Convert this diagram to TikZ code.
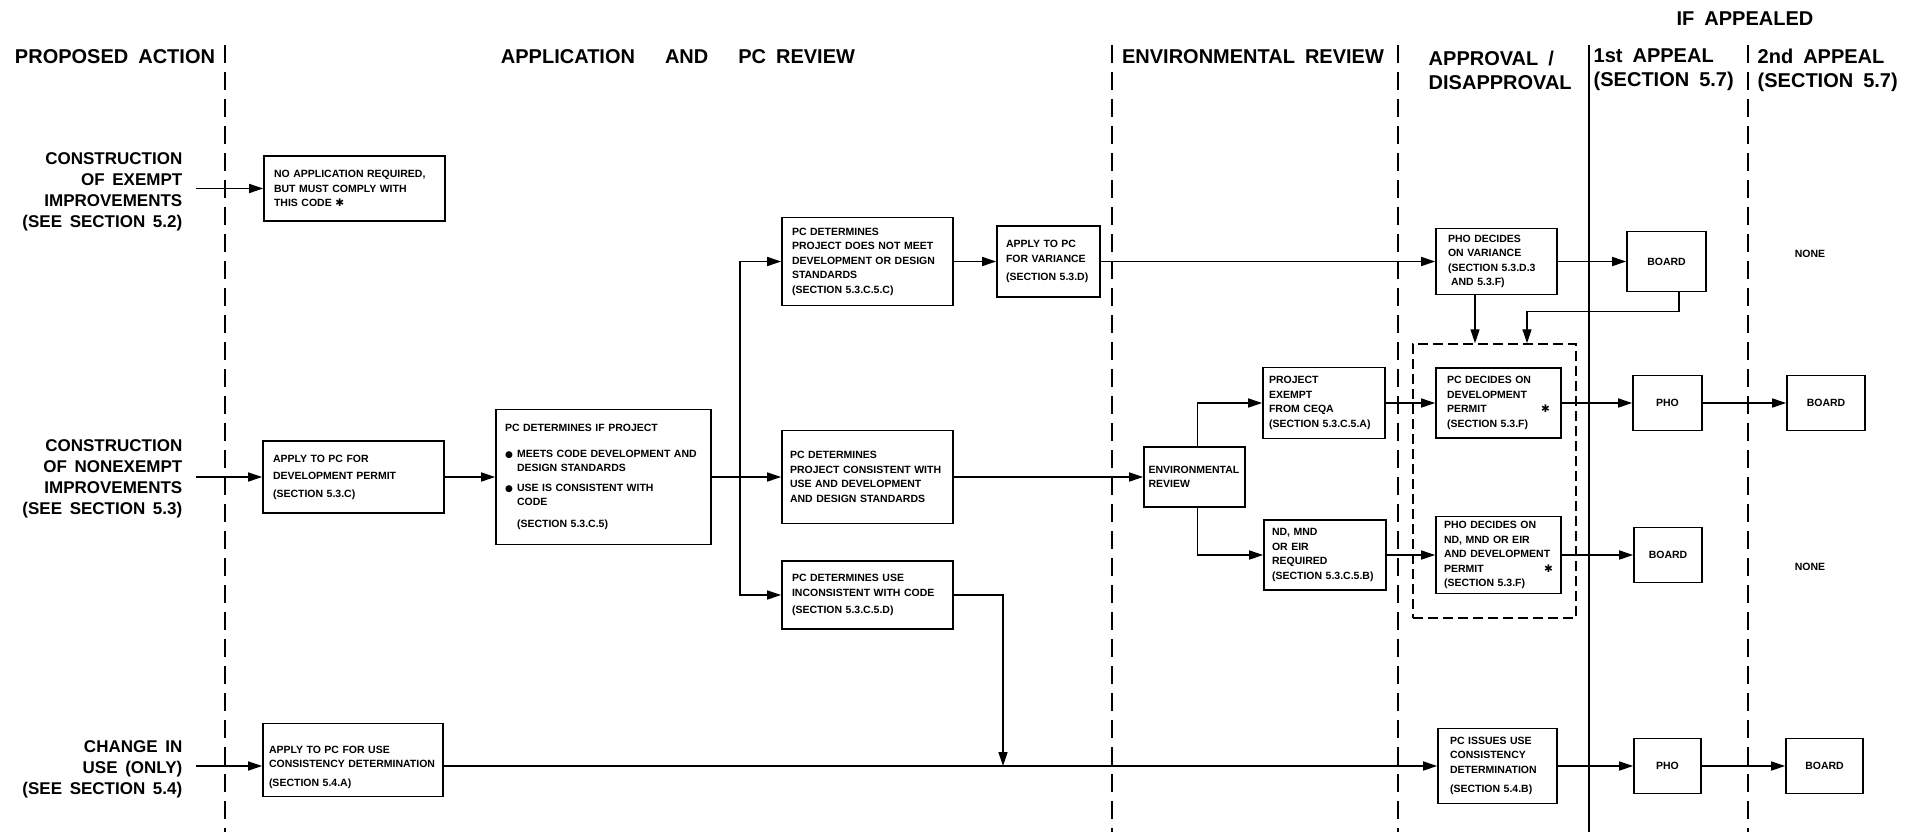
\documentclass[tikz,border=0pt]{standalone}
\usepackage{fontspec}
\setmainfont{Liberation Sans}
\newfontfamily\symf{DejaVu Sans}
\usetikzlibrary{arrows.meta}

\newcommand\headfont{\fontsize{20}{24}\selectfont\bfseries\spaceskip=0.5em\relax}
\newcommand\rowfont{\fontsize{17}{21}\selectfont\bfseries\spaceskip=0.45em\relax}
\newcommand\boxfont{\fontsize{10.5}{14.5}\selectfont\bfseries\spaceskip=0.4em\relax\hyphenpenalty=10000\relax}
\newcommand\dotmark{\makebox[12pt][l]{\symf\fontsize{9}{9}\selectfont ●}}

\tikzset{every picture/.style={line width=1.4pt}}
\tikzset{
  procbox/.style={draw, line width=1.6pt, inner xsep=10pt, inner ysep=4pt, align=left, font=\boxfont},
  smallbox/.style={draw, line width=1.6pt, align=center, font=\boxfont},
  grpbox/.style={draw, line width=1.5pt, dash pattern=on 10pt off 5pt},
  colrule/.style={dash pattern=on 18pt off 9pt},
  arr/.style={-{Triangle[length=14pt,width=9pt]}}
}

\begin{document}
\begin{tikzpicture}[x=1pt,y=1pt,yscale=-1]
  \useasboundingbox (0,0) rectangle (1932,832);

  % column rules
  \draw [colrule] (225,45) -- (225,832);
  \draw [colrule] (1112,45) -- (1112,832);
  \draw [colrule] (1398,45) -- (1398,832);
  \draw (1589,45) -- (1589,832);
  \draw [colrule] (1748,45) -- (1748,832);

  % headings
  \draw (115,57) node (hprop) [font=\headfont, inner sep=0pt] {PROPOSED ACTION};
  \draw (678,57) node (happ) [font=\headfont, inner sep=0pt] {APPLICATION\hspace{1em} AND\hspace{1em} PC REVIEW};
  \draw (1253,57) node (henv) [font=\headfont, inner sep=0pt] {ENVIRONMENTAL REVIEW};
  \draw (1428,70) node (happr) [font=\headfont, inner sep=0pt, anchor=west, align=left] {APPROVAL /\\DISAPPROVAL};
  \draw (1593,70) node (hfirst) [font=\headfont, inner sep=0pt, anchor=west, align=left] {1st APPEAL\\(SECTION 5.7)};
  \draw (1757,70) node (hsecond) [font=\headfont, inner sep=0pt, anchor=west, align=left] {2nd APPEAL\\(SECTION 5.7)};
  \draw (1745,19) node (hif) [font=\headfont, inner sep=0pt] {IF APPEALED};

  % proposed actions
  \draw (196,192) node (lbla) [anchor=east, align=right, font=\rowfont, inner xsep=13pt] {CONSTRUCTION\\OF EXEMPT\\IMPROVEMENTS\\(SEE SECTION 5.2)};
  \draw (196,479) node (lblb) [anchor=east, align=right, font=\rowfont, inner xsep=13pt] {CONSTRUCTION\\OF NONEXEMPT\\IMPROVEMENTS\\(SEE SECTION 5.3)};
  \draw (196,769) node (lblc) [anchor=east, align=right, font=\rowfont, inner xsep=13pt] {CHANGE IN\\USE (ONLY)\\(SEE SECTION 5.4)};

  % application and review boxes
  \draw (354.5,188.5) node (noapp) [procbox, text width=161pt, minimum height=65pt] {NO APPLICATION REQUIRED,\\BUT MUST COMPLY WITH\\THIS CODE {\symf ✱}};
  \draw (353.5,477) node (applydev) [procbox, text width=161pt, minimum height=72pt] {APPLY TO PC FOR\\[3pt]DEVELOPMENT PERMIT\\[3pt](SECTION 5.3.C)};
  \draw (603.5,477) node (pcdet) [procbox, inner xsep=9pt, text width=197pt, minimum height=135pt] {PC DETERMINES IF PROJECT\\[11pt]
    \dotmark MEETS CODE DEVELOPMENT AND\\
    \hspace*{12pt}DESIGN STANDARDS\\[5pt]
    \dotmark USE IS CONSISTENT WITH\\
    \hspace*{12pt}CODE\\[7pt]
    \hspace*{12pt}(SECTION 5.3.C.5)};
  \coordinate (split) at (740,477);

  \draw (867.5,261.5) node (notmeet) [procbox, inner xsep=10pt, text width=151pt, minimum height=88pt] {PC DETERMINES\\PROJECT DOES NOT MEET\\DEVELOPMENT OR DESIGN\\STANDARDS\\(SECTION 5.3.C.5.C)};
  \draw (867.5,477) node (consist) [procbox, inner xsep=8pt, text width=155pt, minimum height=93pt] {PC DETERMINES\\PROJECT CONSISTENT WITH\\USE AND DEVELOPMENT\\AND DESIGN STANDARDS\\[4pt]};
  \draw (867.5,595) node (inconsist) [procbox, inner xsep=10pt, text width=151pt, minimum height=68pt] {PC DETERMINES USE\\INCONSISTENT WITH CODE\\[3pt](SECTION 5.3.C.5.D)};
  \draw (1048.5,261.5) node (variance) [procbox, inner xsep=9pt, text width=85pt, minimum height=71pt] {APPLY TO PC\\FOR VARIANCE\\[4pt](SECTION 5.3.D)};
  \draw (353,760) node (usecons) [procbox, inner xsep=6pt, text width=168pt, minimum height=73pt] {\rule{0pt}{22pt}APPLY TO PC FOR USE\\CONSISTENCY DETERMINATION\\[4pt](SECTION 5.4.A)};
  \coordinate (drop) at (1003,766);

  % environmental review
  \draw (1194.5,477) node (envrev) [procbox, inner xsep=4.5pt, text width=92pt, minimum height=60pt] {ENVIRONMENTAL\\REVIEW};
  \draw (1324,403) node (ceqa) [procbox, inner xsep=6pt, text width=110pt, minimum height=71pt] {PROJECT\\EXEMPT\\FROM CEQA\\(SECTION 5.3.C.5.A)};
  \draw (1325,555) node (ndmnd) [procbox, inner xsep=8pt, text width=106pt, minimum height=70pt] {ND, MND\\OR EIR\\REQUIRED\\(SECTION 5.3.C.5.B)};

  % approval / disapproval
  \draw (1494.5,481) node (grp) [grpbox, minimum width=163pt, minimum height=274pt] {};
  \draw (1496.5,261.5) node (phovar) [procbox, inner xsep=12pt, text width=97pt, minimum height=66pt] {PHO DECIDES\\ON VARIANCE\\(SECTION 5.3.D.3\\\hspace*{3pt}AND 5.3.F)};
  \draw (1498.5,403) node (pcdec) [procbox, inner xsep=11pt, text width=103pt, minimum height=70pt] {PC DECIDES ON\\DEVELOPMENT\\PERMIT\hfill{\symf ✱}\hspace*{4pt}\\(SECTION 5.3.F)};
  \draw (1498.5,555) node (phoeir) [procbox, inner xsep=8pt, text width=109pt, minimum height=77pt] {PHO DECIDES ON\\ND, MND OR EIR\\AND DEVELOPMENT\\PERMIT\hfill{\symf ✱}\\(SECTION 5.3.F)};
  \draw (1497.5,766) node (pcissue) [procbox, inner xsep=12pt, text width=95pt, minimum height=75pt] {PC ISSUES USE\\CONSISTENCY\\DETERMINATION\\[5pt](SECTION 5.4.B)};

  % appeals
  \draw (1666.5,261.5) node (board1) [smallbox, minimum width=79pt, minimum height=60pt] {BOARD};
  \draw (1667.5,403) node (pho1) [smallbox, minimum width=69pt, minimum height=55pt] {PHO};
  \draw (1826,403) node (board2) [smallbox, minimum width=78pt, minimum height=55pt] {BOARD};
  \draw (1668,555) node (board3) [smallbox, minimum width=68pt, minimum height=55pt] {BOARD};
  \draw (1667.5,766) node (pho2) [smallbox, minimum width=67pt, minimum height=55pt] {PHO};
  \draw (1824.5,766) node (board4) [smallbox, minimum width=77pt, minimum height=55pt] {BOARD};
  \draw (1810,254) node (none1) [font=\boxfont] {NONE};
  \draw (1810,567) node (none2) [font=\boxfont] {NONE};

  % flow
  \draw [arr] (lbla.east |- noapp) -- (noapp);
  \draw [arr] (lblb.east |- applydev) -- (applydev);
  \draw [arr] (lblc.east |- pcissue) -- (usecons.west |- pcissue);
  \draw [arr] (applydev) -- (pcdet);
  \draw (pcdet) -- (split);
  \draw [arr] (split) |- (notmeet);
  \draw [arr] (split) -- (consist);
  \draw [arr] (split) |- (inconsist);
  \draw [arr] (notmeet) -- (variance);
  \draw [arr] (variance) -- (phovar);
  \draw [arr] (phovar) -- (board1);
  \draw [arr] (consist) -- (envrev);
  \draw [arr] ([xshift=3pt]envrev.north) |- (ceqa);
  \draw [arr] ([xshift=3pt]envrev.south) |- (ndmnd);
  \draw [arr] (ceqa) -- (pcdec);
  \draw [arr] (ndmnd) -- (phoeir);
  \draw [arr] (pcdec) -- (pho1);
  \draw [arr] (pho1) -- (board2);
  \draw [arr] (phoeir) -- (board3);
  \draw [arr] ([xshift=-21.5pt]phovar.south) -- ([xshift=-21.5pt]phovar.south |- grp.north);
  \draw [arr] ([xshift=12.5pt]board1.south) -- ++(0,19) -| ([xshift=32.5pt]grp.north);
  \draw [arr] (inconsist.east) -| (drop);
  \draw [arr] (usecons.east |- pcissue) -- (pcissue);
  \draw [arr] (pcissue) -- (pho2);
  \draw [arr] (pho2) -- (board4);

\end{tikzpicture}
\end{document}
